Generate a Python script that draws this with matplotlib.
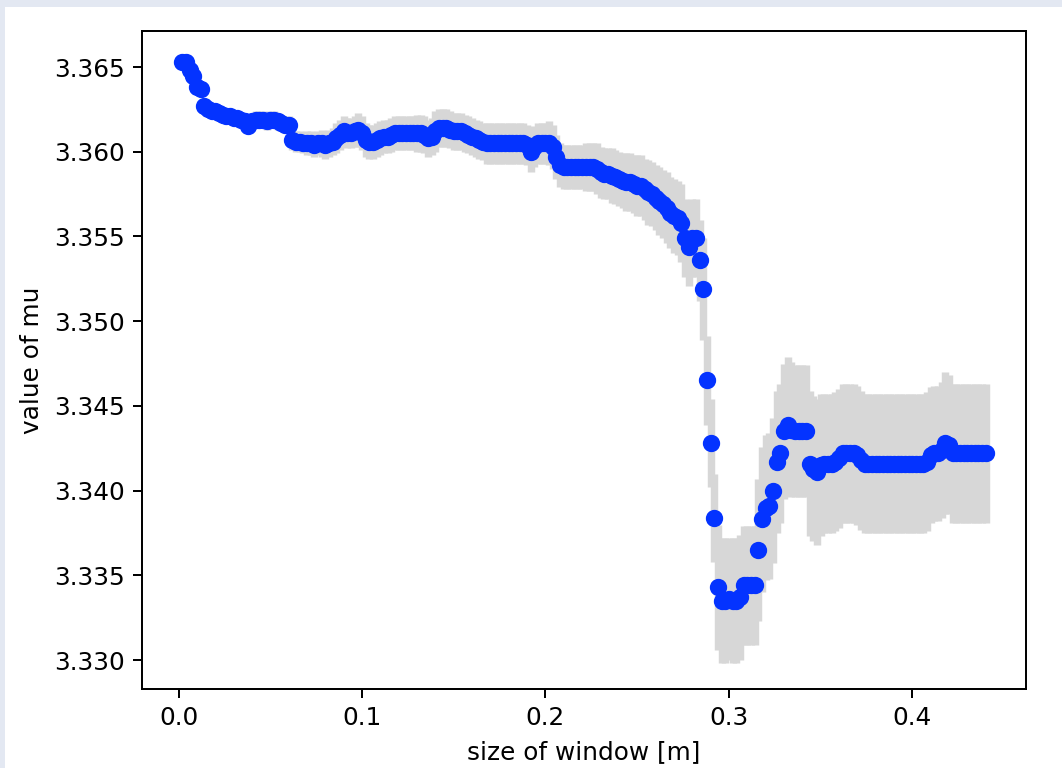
import numpy as np
import matplotlib
matplotlib.use("Agg")
import matplotlib.pyplot as plt
from matplotlib.patches import Rectangle

# window sizes [m]: 0.002 ... 0.440 in steps of 0.002
window_start = 0.002
window_step = 0.002
n_windows = 220

# fitted value of mu for each window size
mu = [
    3.3653, 3.3653, 3.3648, 3.3645, 3.3638, 3.3637, 3.3627, 3.3625, 3.3624, 3.3624,
    3.3623, 3.3622, 3.3621, 3.3621, 3.3620, 3.3620, 3.3619, 3.3618, 3.3615, 3.3618,
    3.3619, 3.3619, 3.3619, 3.3618, 3.3619, 3.3619, 3.3618, 3.3617, 3.3616, 3.3616,
    3.3607, 3.3606, 3.3606, 3.3605, 3.3605, 3.3605, 3.3604, 3.3605, 3.3605, 3.3604,
    3.3605, 3.3606, 3.3608, 3.3610, 3.3612, 3.3611, 3.3611, 3.3612, 3.3613, 3.3611,
    3.3607, 3.3606, 3.3606, 3.3607, 3.3608, 3.3609, 3.3609, 3.3610, 3.3611, 3.3611,
    3.3611, 3.3611, 3.3611, 3.3611, 3.3611, 3.3611, 3.3610, 3.3608, 3.3609, 3.3612,
    3.3614, 3.3614, 3.3614, 3.3613, 3.3612, 3.3612, 3.3612, 3.3611, 3.3610, 3.3609,
    3.3608, 3.3607, 3.3606, 3.3605, 3.3605, 3.3605, 3.3605, 3.3605, 3.3605, 3.3605,
    3.3605, 3.3605, 3.3605, 3.3605, 3.3604, 3.3600, 3.3603, 3.3605, 3.3605, 3.3605,
    3.3605, 3.3603, 3.3597, 3.3592, 3.3591, 3.3591, 3.3591, 3.3591, 3.3591, 3.3591,
    3.3591, 3.3591, 3.3591, 3.3590, 3.3588, 3.3587, 3.3587, 3.3586, 3.3585, 3.3584,
    3.3583, 3.3582, 3.3582, 3.3581, 3.3580, 3.3580, 3.3578, 3.3576, 3.3575, 3.3573,
    3.3571, 3.3569, 3.3567, 3.3564, 3.3562, 3.3561, 3.3558, 3.3549, 3.3544, 3.3549,
    3.3549, 3.3536, 3.3519, 3.3465, 3.3428, 3.3384, 3.3343, 3.3335, 3.3335, 3.3336,
    3.3335, 3.3335, 3.3337, 3.3344, 3.3344, 3.3344, 3.3344, 3.3365, 3.3383, 3.3390,
    3.3391, 3.3400, 3.3417, 3.3422, 3.3435, 3.3439, 3.3436, 3.3435, 3.3435, 3.3435,
    3.3435, 3.3416, 3.3413, 3.3411, 3.3415, 3.3416, 3.3416, 3.3416, 3.3417, 3.3419,
    3.3422, 3.3422, 3.3422, 3.3422, 3.3421, 3.3418, 3.3416, 3.3416, 3.3416, 3.3416,
    3.3416, 3.3416, 3.3416, 3.3416, 3.3416, 3.3416, 3.3416, 3.3416, 3.3416, 3.3416,
    3.3416, 3.3416, 3.3416, 3.3417, 3.3421, 3.3422, 3.3422, 3.3424, 3.3428, 3.3427,
    3.3422, 3.3422, 3.3422, 3.3422, 3.3422, 3.3422, 3.3422, 3.3422, 3.3422, 3.3422,
]

# uncertainty of mu for each window size
sigma = [
    0.0003, 0.0003, 0.0003, 0.0003, 0.0003, 0.0003, 0.0003, 0.0003, 0.0003, 0.0003,
    0.0004, 0.0004, 0.0004, 0.0004, 0.0004, 0.0004, 0.0004, 0.0004, 0.0004, 0.0004,
    0.0005, 0.0005, 0.0005, 0.0005, 0.0005, 0.0005, 0.0005, 0.0005, 0.0005, 0.0005,
    0.0006, 0.0006, 0.0006, 0.0006, 0.0007, 0.0007, 0.0007, 0.0007, 0.0008, 0.0008,
    0.0008, 0.0008, 0.0009, 0.0009, 0.0009, 0.0009, 0.0009, 0.0009, 0.0010, 0.0010,
    0.0010, 0.0010, 0.0010, 0.0010, 0.0010, 0.0010, 0.0010, 0.0010, 0.0010, 0.0010,
    0.0010, 0.0010, 0.0010, 0.0010, 0.0011, 0.0011, 0.0011, 0.0011, 0.0011, 0.0012,
    0.0011, 0.0011, 0.0011, 0.0011, 0.0011, 0.0011, 0.0011, 0.0011, 0.0011, 0.0011,
    0.0011, 0.0011, 0.0011, 0.0012, 0.0012, 0.0012, 0.0012, 0.0012, 0.0012, 0.0012,
    0.0012, 0.0012, 0.0012, 0.0012, 0.0012, 0.0012, 0.0012, 0.0012, 0.0012, 0.0012,
    0.0013, 0.0013, 0.0013, 0.0013, 0.0013, 0.0013, 0.0013, 0.0013, 0.0013, 0.0013,
    0.0014, 0.0014, 0.0014, 0.0015, 0.0015, 0.0015, 0.0015, 0.0016, 0.0016, 0.0016,
    0.0016, 0.0017, 0.0017, 0.0017, 0.0018, 0.0018, 0.0018, 0.0019, 0.0019, 0.0019,
    0.0020, 0.0020, 0.0021, 0.0021, 0.0022, 0.0022, 0.0023, 0.0023, 0.0023, 0.0023,
    0.0023, 0.0024, 0.0030, 0.0026, 0.0026, 0.0026, 0.0037, 0.0037, 0.0037, 0.0036,
    0.0037, 0.0037, 0.0037, 0.0035, 0.0035, 0.0035, 0.0035, 0.0042, 0.0043, 0.0043,
    0.0043, 0.0043, 0.0042, 0.0041, 0.0040, 0.0040, 0.0040, 0.0039, 0.0039, 0.0039,
    0.0039, 0.0043, 0.0043, 0.0043, 0.0042, 0.0041, 0.0041, 0.0041, 0.0041, 0.0041,
    0.0041, 0.0041, 0.0041, 0.0041, 0.0041, 0.0041, 0.0041, 0.0041, 0.0041, 0.0041,
    0.0041, 0.0041, 0.0041, 0.0041, 0.0041, 0.0041, 0.0041, 0.0041, 0.0041, 0.0041,
    0.0041, 0.0041, 0.0041, 0.0041, 0.0040, 0.0040, 0.0040, 0.0040, 0.0042, 0.0041,
    0.0041, 0.0041, 0.0041, 0.0041, 0.0041, 0.0041, 0.0041, 0.0041, 0.0041, 0.0041,
]

window = window_start + window_step * np.arange(n_windows)
mu = np.array(mu)
sigma = np.array(sigma)

DPI = 178
fig = plt.figure(figsize=(1062 / DPI, 768 / DPI), dpi=DPI, facecolor="white")

# thin pale-blue border strips along the top and left edges
fig.patches.append(Rectangle((0, 1 - 7 / 768), 1, 7 / 768, transform=fig.transFigure,
                             facecolor="#e3e8f2", edgecolor="none", zorder=0))
fig.patches.append(Rectangle((0, 0), 5 / 1062, 1, transform=fig.transFigure,
                             facecolor="#e3e8f2", edgecolor="none", zorder=0))

ax = fig.add_axes([142 / 1062, 1 - 689 / 768, 884 / 1062, 658 / 768])

ax.errorbar(window, mu, yerr=sigma, fmt="o", color="#0433ff",
            ecolor="#d7d7d7", elinewidth=3, capsize=0)

ax.set_ylim(3.32829, 3.36713)
ax.set_yticks([3.330, 3.335, 3.340, 3.345, 3.350, 3.355, 3.360, 3.365])
ax.set_xticks([0.0, 0.1, 0.2, 0.3, 0.4])
ax.set_xlabel("size of window [m]")
ax.set_ylabel("value of mu")

fig.savefig("out.png", dpi=DPI, facecolor=fig.get_facecolor())
